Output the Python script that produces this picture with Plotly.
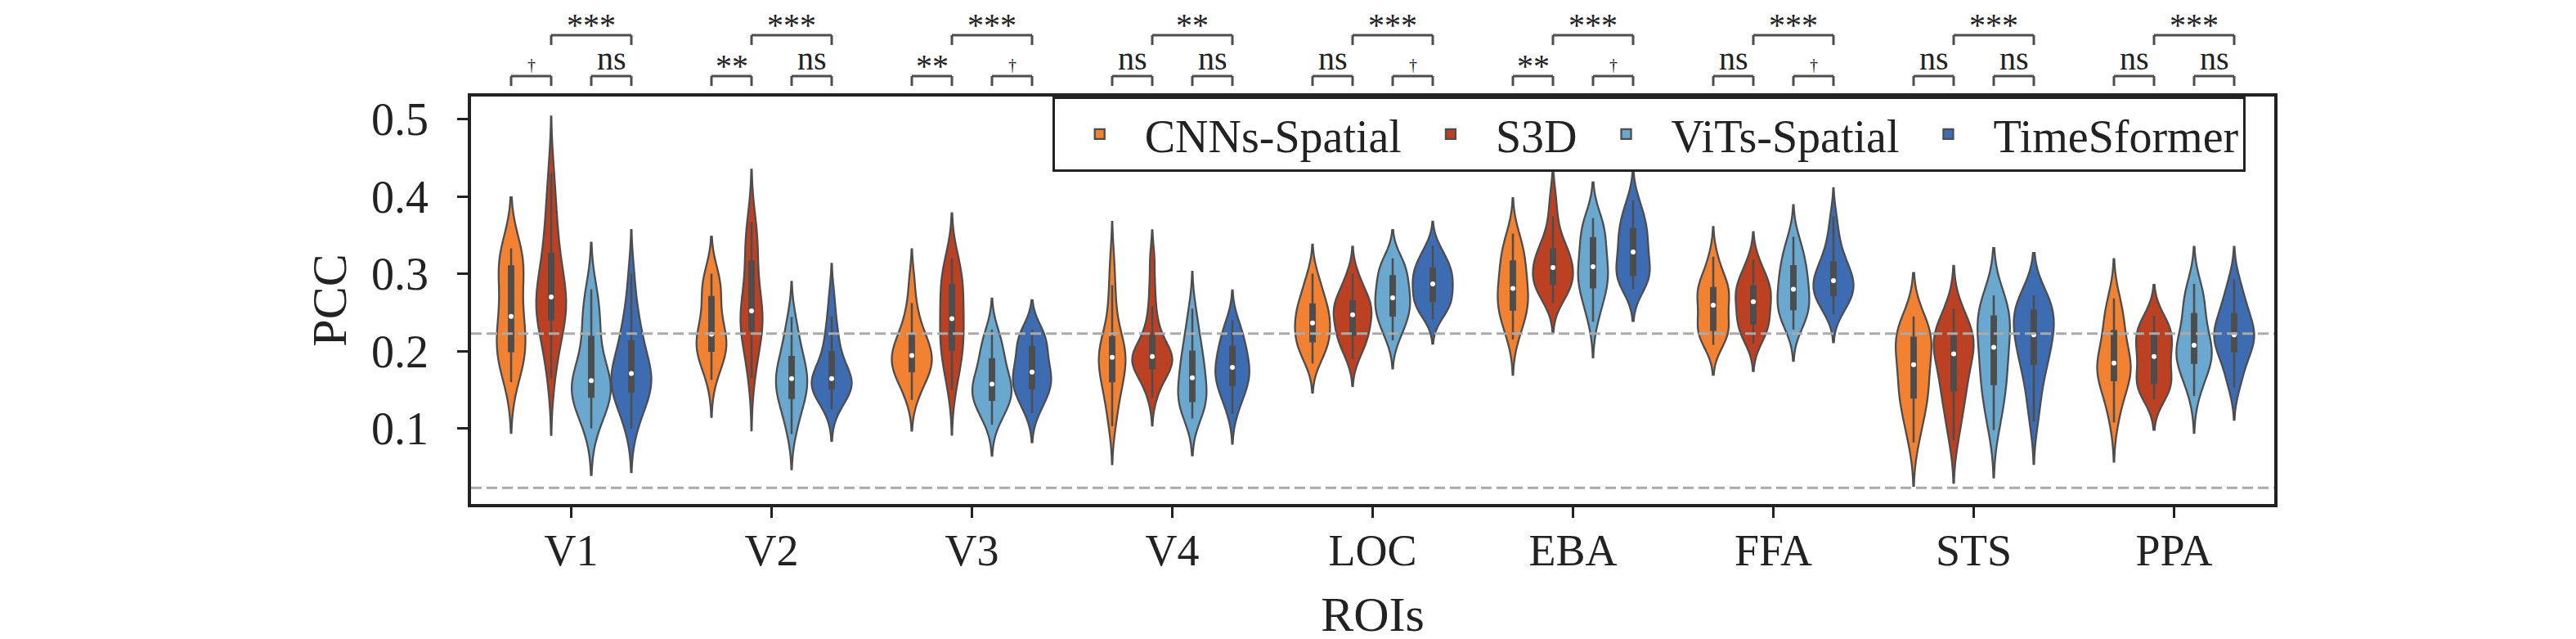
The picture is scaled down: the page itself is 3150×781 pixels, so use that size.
import numpy as np
import plotly.graph_objects as go

# ---------------- data ----------------
rois = ["V1", "V2", "V3", "V4", "LOC", "EBA", "FFA", "STS", "PPA"]
models = ["CNNs-Spatial", "S3D", "ViTs-Spatial", "TimeSformer"]
colors = ["#F28232", "#BC4123", "#6AA8CF", "#3D6CB2"]

cnns_spatial = [
    [0.160, 0.176, 0.188, 0.195, 0.198, 0.202, 0.210, 0.220, 0.230, 0.241, 0.249, 0.260, 0.275, 0.292, 0.306, 0.313, 0.318, 0.322, 0.327, 0.333],
    [0.163, 0.178, 0.188, 0.195, 0.199, 0.202, 0.206, 0.210, 0.214, 0.219, 0.225, 0.231, 0.240, 0.252, 0.265, 0.275, 0.283, 0.289, 0.294, 0.300],
    [0.137, 0.150, 0.160, 0.167, 0.172, 0.176, 0.180, 0.184, 0.188, 0.192, 0.197, 0.201, 0.205, 0.210, 0.217, 0.223, 0.232, 0.245, 0.262, 0.292],
    [0.103, 0.120, 0.135, 0.148, 0.158, 0.164, 0.170, 0.176, 0.182, 0.189, 0.195, 0.199, 0.203, 0.208, 0.214, 0.222, 0.240, 0.262, 0.285, 0.318],
    [0.184, 0.193, 0.200, 0.206, 0.211, 0.214, 0.219, 0.224, 0.229, 0.234, 0.239, 0.244, 0.248, 0.253, 0.258, 0.263, 0.270, 0.279, 0.289, 0.300],
    [0.215, 0.228, 0.238, 0.246, 0.251, 0.256, 0.261, 0.266, 0.272, 0.278, 0.284, 0.290, 0.297, 0.305, 0.313, 0.319, 0.326, 0.333, 0.342, 0.352],
    [0.208, 0.214, 0.219, 0.223, 0.226, 0.229, 0.234, 0.240, 0.247, 0.255, 0.264, 0.269, 0.273, 0.277, 0.280, 0.283, 0.288, 0.296, 0.308, 0.322],
    [0.082, 0.100, 0.115, 0.128, 0.137, 0.143, 0.150, 0.158, 0.166, 0.177, 0.188, 0.196, 0.203, 0.209, 0.215, 0.220, 0.225, 0.230, 0.237, 0.245],
    [0.108, 0.126, 0.140, 0.152, 0.160, 0.165, 0.170, 0.174, 0.178, 0.182, 0.187, 0.192, 0.198, 0.206, 0.222, 0.230, 0.238, 0.248, 0.258, 0.268],
]
s3d = [
    [0.165, 0.190, 0.210, 0.228, 0.238, 0.244, 0.250, 0.256, 0.262, 0.267, 0.273, 0.280, 0.290, 0.303, 0.320, 0.332, 0.350, 0.372, 0.398, 0.430],
    [0.165, 0.185, 0.202, 0.215, 0.224, 0.230, 0.235, 0.240, 0.245, 0.250, 0.254, 0.260, 0.270, 0.287, 0.310, 0.322, 0.334, 0.346, 0.356, 0.367],
    [0.150, 0.168, 0.182, 0.193, 0.199, 0.204, 0.212, 0.221, 0.230, 0.238, 0.246, 0.254, 0.262, 0.271, 0.282, 0.289, 0.296, 0.303, 0.311, 0.320],
    [0.140, 0.155, 0.165, 0.171, 0.176, 0.180, 0.184, 0.187, 0.190, 0.192, 0.194, 0.197, 0.201, 0.207, 0.216, 0.224, 0.238, 0.258, 0.285, 0.320],
    [0.190, 0.200, 0.208, 0.214, 0.219, 0.223, 0.228, 0.233, 0.238, 0.244, 0.250, 0.253, 0.256, 0.259, 0.262, 0.267, 0.273, 0.280, 0.290, 0.300],
    [0.262, 0.270, 0.277, 0.282, 0.285, 0.289, 0.293, 0.297, 0.301, 0.305, 0.311, 0.316, 0.320, 0.324, 0.329, 0.334, 0.342, 0.356, 0.375, 0.400],
    [0.210, 0.218, 0.225, 0.230, 0.234, 0.238, 0.243, 0.249, 0.255, 0.261, 0.267, 0.271, 0.275, 0.279, 0.282, 0.286, 0.292, 0.299, 0.308, 0.318],
    [0.085, 0.105, 0.122, 0.136, 0.146, 0.153, 0.163, 0.173, 0.184, 0.193, 0.200, 0.205, 0.209, 0.213, 0.217, 0.221, 0.227, 0.234, 0.243, 0.255],
    [0.138, 0.145, 0.150, 0.154, 0.157, 0.161, 0.167, 0.174, 0.181, 0.189, 0.197, 0.203, 0.208, 0.213, 0.218, 0.223, 0.228, 0.233, 0.239, 0.246],
]
vits_spatial = [
    [0.100, 0.115, 0.126, 0.134, 0.139, 0.143, 0.148, 0.152, 0.156, 0.160, 0.164, 0.169, 0.176, 0.190, 0.212, 0.225, 0.238, 0.252, 0.266, 0.280],
    [0.093, 0.108, 0.120, 0.130, 0.137, 0.142, 0.147, 0.152, 0.157, 0.162, 0.167, 0.171, 0.176, 0.182, 0.189, 0.196, 0.205, 0.216, 0.230, 0.244],
    [0.105, 0.117, 0.125, 0.131, 0.135, 0.139, 0.143, 0.147, 0.151, 0.155, 0.160, 0.164, 0.169, 0.176, 0.186, 0.193, 0.200, 0.208, 0.217, 0.228],
    [0.113, 0.121, 0.127, 0.131, 0.134, 0.137, 0.142, 0.148, 0.155, 0.162, 0.169, 0.175, 0.181, 0.188, 0.196, 0.203, 0.212, 0.224, 0.239, 0.255],
    [0.214, 0.224, 0.232, 0.239, 0.244, 0.248, 0.253, 0.258, 0.263, 0.267, 0.271, 0.276, 0.281, 0.287, 0.294, 0.300, 0.305, 0.310, 0.315, 0.320],
    [0.238, 0.252, 0.264, 0.273, 0.280, 0.285, 0.290, 0.295, 0.300, 0.306, 0.312, 0.318, 0.325, 0.333, 0.342, 0.350, 0.357, 0.362, 0.367, 0.372],
    [0.228, 0.236, 0.243, 0.248, 0.252, 0.256, 0.261, 0.266, 0.272, 0.277, 0.283, 0.289, 0.295, 0.301, 0.307, 0.313, 0.320, 0.328, 0.337, 0.348],
    [0.098, 0.115, 0.130, 0.143, 0.154, 0.161, 0.170, 0.180, 0.190, 0.200, 0.210, 0.218, 0.225, 0.233, 0.242, 0.248, 0.254, 0.259, 0.265, 0.272],
    [0.142, 0.158, 0.170, 0.178, 0.183, 0.187, 0.191, 0.195, 0.200, 0.205, 0.210, 0.215, 0.222, 0.231, 0.243, 0.253, 0.262, 0.270, 0.278, 0.287],
]
timesformer = [
    [0.100, 0.118, 0.130, 0.138, 0.145, 0.150, 0.155, 0.160, 0.165, 0.169, 0.173, 0.178, 0.185, 0.195, 0.208, 0.218, 0.228, 0.242, 0.265, 0.300],
    [0.125, 0.135, 0.142, 0.147, 0.150, 0.153, 0.156, 0.158, 0.161, 0.163, 0.166, 0.170, 0.175, 0.183, 0.195, 0.203, 0.214, 0.228, 0.245, 0.272],
    [0.120, 0.130, 0.138, 0.145, 0.150, 0.154, 0.158, 0.162, 0.166, 0.170, 0.176, 0.181, 0.187, 0.194, 0.202, 0.209, 0.214, 0.219, 0.224, 0.228],
    [0.119, 0.132, 0.142, 0.149, 0.154, 0.158, 0.163, 0.168, 0.172, 0.177, 0.181, 0.185, 0.190, 0.196, 0.203, 0.209, 0.215, 0.222, 0.230, 0.240],
    [0.241, 0.249, 0.255, 0.259, 0.263, 0.266, 0.270, 0.275, 0.280, 0.285, 0.289, 0.293, 0.297, 0.301, 0.305, 0.309, 0.314, 0.320, 0.327, 0.336],
    [0.280, 0.286, 0.290, 0.294, 0.297, 0.300, 0.305, 0.311, 0.317, 0.324, 0.332, 0.338, 0.344, 0.350, 0.355, 0.361, 0.368, 0.376, 0.385, 0.395],
    [0.248, 0.256, 0.262, 0.267, 0.271, 0.274, 0.278, 0.282, 0.286, 0.289, 0.293, 0.297, 0.301, 0.306, 0.312, 0.318, 0.326, 0.338, 0.353, 0.374],
    [0.109, 0.130, 0.150, 0.166, 0.180, 0.187, 0.195, 0.203, 0.211, 0.218, 0.224, 0.230, 0.236, 0.242, 0.249, 0.256, 0.260, 0.264, 0.268, 0.272],
    [0.153, 0.165, 0.176, 0.188, 0.197, 0.202, 0.207, 0.212, 0.216, 0.219, 0.223, 0.227, 0.232, 0.238, 0.245, 0.251, 0.259, 0.268, 0.280, 0.293],
]

# significance labels: CNNs vs S3D, ViTs vs TimeSformer, S3D vs TimeSformer
sig_cnn_s3d = ["†", "**", "**", "ns", "ns", "**", "ns", "ns", "ns"]
sig_vit_tsf = ["ns", "ns", "†", "ns", "†", "†", "†", "ns", "ns"]
sig_s3d_tsf = ["***", "***", "***", "**", "***", "***", "***", "***", "***"]

# horizontal reference lines
ref_lines = [0.0235, 0.2227]

# ---------------- styling ----------------
W, H = 3150, 781
M_L, M_R, M_T, M_B = 568, 377, 110, 173
PLOT_H = H - M_T - M_B
FONT = "Liberation Serif, Times New Roman, serif"
TXT = "#222222"
EDGE = "#4d4d4d"
GAP = 0.2


def to_paper(px_from_top):
    return (H - M_B - px_from_top) / PLOT_H


series = [cnns_spatial, s3d, vits_spatial, timesformer]

fig = go.Figure()
for model, color, data in zip(models, colors, series):
    for r, roi in enumerate(rois):
        vals = data[r]
        fig.add_trace(go.Violin(
            x=[roi] * len(vals), y=vals, name=model, legendgroup=model,
            showlegend=(r == 0), offsetgroup=model, alignmentgroup="violins",
            scalegroup=roi, scalemode="width", spanmode="soft", points=False,
            fillcolor=color, line=dict(color=EDGE, width=2.3), opacity=1,
            box=dict(visible=True, width=0.11, fillcolor=EDGE,
                     line=dict(color=EDGE, width=2.5)),
            meanline=dict(visible=False), hoverinfo="skip",
        ))

for model, data in zip(models, series):
    fig.add_trace(go.Scatter(
        x=rois, y=[float(np.median(v)) for v in data], mode="markers",
        orientation="v", offsetgroup=model, alignmentgroup="medians",
        marker=dict(color="white", size=6, line=dict(width=0)),
        showlegend=False, hoverinfo="skip",
    ))

# reference dashed lines
for v in ref_lines:
    fig.add_shape(type="line", xref="paper", x0=0, x1=1, yref="y", y0=v, y1=v,
                  line=dict(color="#aaaaaa", width=3, dash="13px,6px"), layer="above")

# significance brackets
slot = (1 - GAP) / len(models)
offs = [-(1 - GAP) / 2 + slot * (k + 0.5) for k in range(len(models))]
low_bar, low_leg = to_paper(85), to_paper(97)
high_bar, high_leg = to_paper(35), to_paper(47)
BR = dict(color=EDGE, width=3)


def label_y(text, bar_px):
    if "*" in text:
        return to_paper(bar_px + 2 + 9.6), 40
    if "†" in text:
        return to_paper(bar_px - 6 + 5.3), 20
    return to_paper(bar_px - 7 + 9.6), 40


for r in range(len(rois)):
    for (a, b, bar, leg, bar_px, lab) in [
        (0, 1, low_bar, low_leg, 85, sig_cnn_s3d[r]),
        (2, 3, low_bar, low_leg, 85, sig_vit_tsf[r]),
        (1, 3, high_bar, high_leg, 35, sig_s3d_tsf[r]),
    ]:
        xa, xb = r + offs[a], r + offs[b]
        fig.add_shape(type="line", xref="x", yref="paper", x0=xa, x1=xb, y0=bar, y1=bar, line=BR)
        fig.add_shape(type="line", xref="x", yref="paper", x0=xa, x1=xa, y0=leg, y1=bar, line=BR)
        fig.add_shape(type="line", xref="x", yref="paper", x0=xb, x1=xb, y0=leg, y1=bar, line=BR)
        ly, fs = label_y(lab, bar_px)
        fig.add_annotation(x=(xa + xb) / 2, xref="x", y=ly, yref="paper", text=lab,
                           showarrow=False, xanchor="center", yanchor="bottom",
                           font=dict(family=FONT, size=fs, color=TXT))

fig.update_layout(
    width=W, height=H,
    margin=dict(l=M_L, r=M_R, t=M_T, b=M_B),
    paper_bgcolor="white", plot_bgcolor="white",
    violinmode="group", violingap=GAP, violingroupgap=0,
    scattermode="group", scattergap=GAP,
    font=dict(family=FONT, size=54, color=TXT),
    legend=dict(orientation="h", x=0.984, y=1.0, xanchor="right", yanchor="top",
                bordercolor=TXT, borderwidth=3, bgcolor="white",
                font=dict(family=FONT, size=56, color=TXT), itemwidth=100,
                traceorder="normal"),
    xaxis=dict(type="category", categoryorder="array", categoryarray=rois,
               range=[-0.5, len(rois) - 0.5], showline=True, mirror=True,
               linewidth=3.5, linecolor=TXT, ticks="outside", ticklen=13,
               tickwidth=3, tickcolor=TXT, showgrid=False, zeroline=False,
               tickfont=dict(size=54), ticklabelstandoff=-7,
               title=dict(text="ROIs", font=dict(size=60), standoff=28)),
    yaxis=dict(range=[0.0025, 0.529], tickvals=[0.1, 0.2, 0.3, 0.4, 0.5],
               showline=True, mirror=True, linewidth=3.5, linecolor=TXT,
               ticks="outside", ticklen=13, tickwidth=3, tickcolor=TXT,
               showgrid=False, zeroline=False, tickfont=dict(size=56),
               ticklabelstandoff=24,
               title=dict(text="PCC", font=dict(size=60), standoff=12)),
)

fig.write_html("out.html")
